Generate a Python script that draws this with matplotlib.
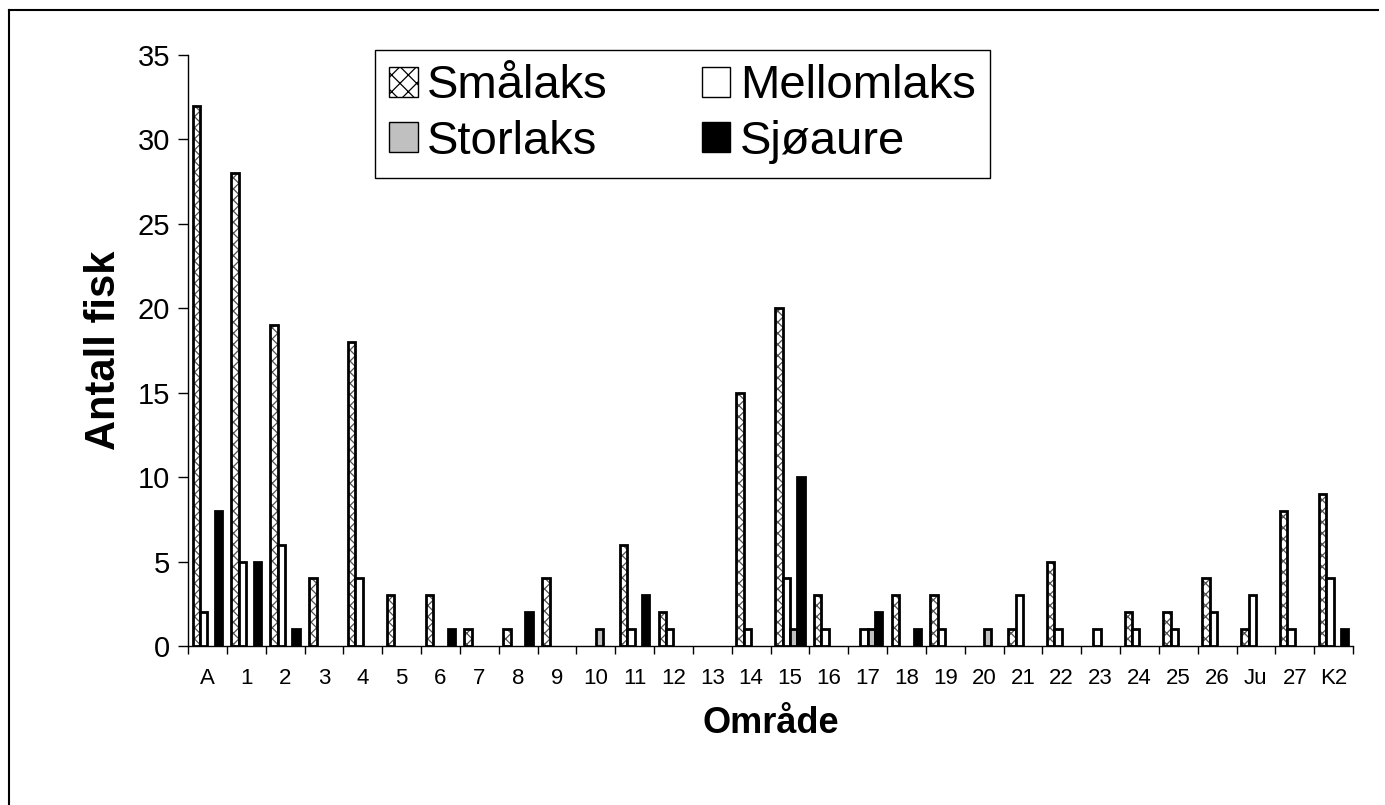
import numpy as np
import matplotlib
matplotlib.use('Agg')
import matplotlib.pyplot as plt
from matplotlib.patches import Patch
from matplotlib.lines import Line2D

plt.rcParams['font.family'] = ['Liberation Sans', 'DejaVu Sans']
plt.rcParams['hatch.linewidth'] = 0.9

# Data
areas = ['A', '1', '2', '3', '4', '5', '6', '7', '8', '9', '10', '11', '12', '13',
         '14', '15', '16', '17', '18', '19', '20', '21', '22', '23', '24', '25',
         '26', 'Ju', '27', 'K2']
smalaks = [32, 28, 19, 4, 18, 3, 3, 1, 1, 4, 0, 6, 2, 0, 15, 20, 3, 0, 3, 3,
           0, 1, 5, 0, 2, 2, 4, 1, 8, 9]
mellomlaks = [2, 5, 6, 0, 4, 0, 0, 0, 0, 0, 0, 1, 1, 0, 1, 4, 1, 1, 0, 1,
              0, 3, 1, 1, 1, 1, 2, 3, 1, 4]
storlaks = [0, 0, 0, 0, 0, 0, 0, 0, 0, 0, 1, 0, 0, 0, 0, 1, 0, 1, 0, 0,
            1, 0, 0, 0, 0, 0, 0, 0, 0, 0]
sjoaure = [8, 5, 1, 0, 0, 0, 1, 0, 2, 0, 0, 3, 0, 0, 0, 10, 0, 2, 1, 0,
           0, 0, 0, 0, 0, 0, 0, 0, 0, 1]

W, H = 1385, 805
fig = plt.figure(figsize=(W / 100, H / 100), dpi=100)
ax = fig.add_axes([188 / W, 1 - 646 / H, (1353 - 188) / W, (646 - 55) / H])

x = np.arange(len(areas))
w = 0.19
lw = 2.0


def nonzero(offset, vals):
    # zero counts get no bar at all (no flat outline on the axis)
    v = np.array(vals, dtype=float)
    keep = v > 0
    return x[keep] + offset, v[keep]


xs, vs = nonzero(-1.5 * w, smalaks)
ax.bar(xs, vs, w, color='white', edgecolor='#505050', hatch='xxx', linewidth=0, zorder=2)
ax.bar(xs, vs, w, fill=False, edgecolor='black', linewidth=lw, zorder=3)
xs, vs = nonzero(-0.5 * w, mellomlaks)
ax.bar(xs, vs, w, color='white', edgecolor='black', linewidth=lw, zorder=3)
xs, vs = nonzero(0.5 * w, storlaks)
ax.bar(xs, vs, w, color='#c0c0c0', edgecolor='black', linewidth=lw, zorder=3)
xs, vs = nonzero(1.5 * w, sjoaure)
ax.bar(xs, vs, w, color='black', edgecolor='black', linewidth=lw, zorder=3)

ax.set_xlim(-0.5, len(areas) - 0.5)
ax.set_ylim(0, 35)
ax.set_yticks(range(0, 36, 5))
ax.tick_params(axis='y', labelsize=21, length=7, width=1, pad=6)
ax.set_xticks(x)
ax.set_xticklabels(areas)
ax.set_xticks(np.arange(-0.5, len(areas), 1), minor=True)
ax.tick_params(axis='x', which='major', length=0, labelsize=16, pad=16)
ax.tick_params(axis='x', which='minor', length=6, width=1)

for s in ['top', 'right']:
    ax.spines[s].set_visible(False)
for s in ['left', 'bottom']:
    ax.spines[s].set_linewidth(1)

ax.set_xlabel('Område', fontsize=26, fontweight='bold', labelpad=12)
ax.set_ylabel('Antall fisk', fontsize=30, fontweight='bold', labelpad=10)

handles = [
    Patch(facecolor='white', edgecolor='black', hatch='xx', linewidth=1),
    Patch(facecolor='#c0c0c0', edgecolor='black', linewidth=1),
    Patch(facecolor='white', edgecolor='black', linewidth=1),
    Patch(facecolor='black', edgecolor='black', linewidth=1),
]
labels = ['Smålaks', 'Storlaks', 'Mellomlaks', 'Sjøaure']
leg = fig.legend(handles, labels, ncol=2, loc='upper left',
                 bbox_to_anchor=(375 / W, 1 - 50 / H), bbox_transform=fig.transFigure,
                 fontsize=34, frameon=True, fancybox=False, framealpha=1,
                 edgecolor='black', handlelength=0.6, handleheight=0.6,
                 handletextpad=0.2, columnspacing=2.0, labelspacing=0.25,
                 borderpad=0.3, borderaxespad=0)
leg.get_frame().set_linewidth(1)

# outer frame around the chart
fig.add_artist(Line2D([9 / W, 9 / W], [0, 1 - 10 / H], color='black', lw=1.5))
fig.add_artist(Line2D([9 / W, 1378 / W], [1 - 10 / H, 1 - 10 / H], color='black', lw=1.5))

fig.savefig('out.png', dpi=100)
